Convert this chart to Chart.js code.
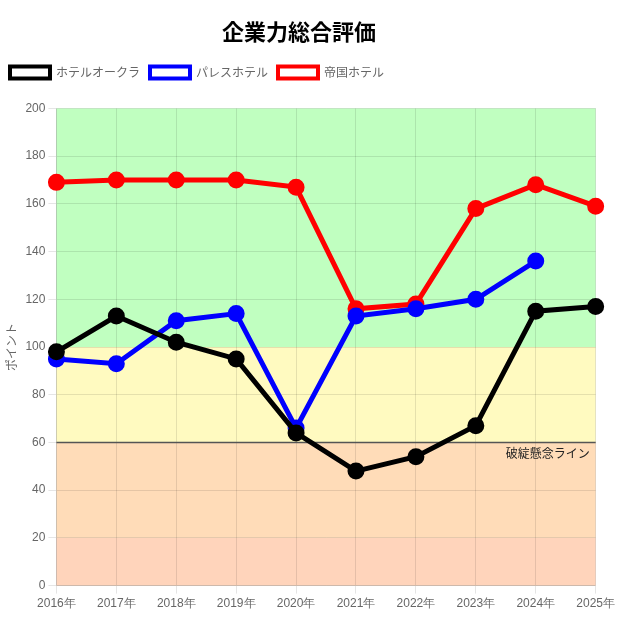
<!DOCTYPE html>
<html><head><meta charset="utf-8">
<script src="https://cdn.jsdelivr.net/npm/chart.js@4"></script>
<style>body{margin:0;background:#fff}#w{width:618px;height:618px}</style>
</head><body><div id="w"><canvas id="c"></canvas></div>
<script>
const labels=['2016年','2017年','2018年','2019年','2020年','2021年','2022年','2023年','2024年','2025年'];
const okura=[98,113,102,95,64,48,54,67,115,117];
const palace=[95,93,111,114,66,113,116,120,136,null];
const imperial=[169,170,170,170,167,116,118,158,168,159];
const bands=[[0,20,'#ffd4bb'],[20,60,'#ffdcb8'],[60,100,'#fffac0'],[100,200,'#c0ffc0']];
const warnLine=60, warnLabel='破綻懸念ライン';
const bg={id:'bg',beforeDraw(ch){const {ctx,chartArea:a,scales:{y}}=ch;ctx.save();
 bands.forEach(b=>{const t=y.getPixelForValue(b[1]),bt=y.getPixelForValue(b[0]);ctx.fillStyle=b[2];ctx.fillRect(a.left,t,a.right-a.left,bt-t);});ctx.restore();},
 beforeDatasetsDraw(ch){const {ctx,chartArea:a,scales:{y}}=ch;const p=Math.round(y.getPixelForValue(warnLine))+0.5;ctx.save();ctx.strokeStyle='#555';ctx.lineWidth=1.5;ctx.beginPath();ctx.moveTo(a.left,p);ctx.lineTo(a.right,p);ctx.stroke();
 ctx.fillStyle='#222';ctx.font='12px "Noto Sans CJK JP"';ctx.textAlign='right';ctx.textBaseline='top';ctx.fillText(warnLabel,a.right-6,p+5);ctx.restore();}};
const legendPad={id:'legendPad',beforeInit(ch){const f=ch.legend.fit;ch.legend.fit=function(){f.bind(ch.legend)();this.height+=20;};}};
const ds=(l,d,c)=>({label:l,data:d,borderColor:c,backgroundColor:'#fff',pointBackgroundColor:c,pointBorderColor:c,borderWidth:5,pointRadius:6,pointHoverRadius:6,tension:0});
new Chart(document.getElementById('c'),{type:'line',
data:{labels,datasets:[ds('ホテルオークラ',okura,'#000'),ds('パレスホテル',palace,'#0000ff'),ds('帝国ホテル',imperial,'#ff0000')]},
options:{responsive:true,maintainAspectRatio:false,animation:false,
layout:{padding:{left:0,right:20,bottom:4,top:8}},
plugins:{title:{display:true,text:'企業力総合評価',font:{size:22,weight:'bold',family:'"Noto Sans CJK JP"'},color:'#000',padding:{top:10,bottom:12}},
legend:{align:'start',labels:{boxWidth:40,boxHeight:12,color:'#666',font:{size:12,family:'"Noto Sans CJK JP"'},generateLabels(ch){return ch.data.datasets.map((d,i)=>({text:d.label,fillStyle:'#fff',strokeStyle:d.borderColor,lineWidth:4,datasetIndex:i,fontColor:'#666'}));}}}},
scales:{x:{offset:false,grid:{color:'rgba(0,0,0,0.1)'},ticks:{color:'#666',font:{size:12}}},
y:{min:0,max:200,ticks:{stepSize:20,color:'#666',font:{size:12}},grid:{color:'rgba(0,0,0,0.1)'},title:{display:true,text:'ポイント',color:'#666',font:{size:12,family:'"Noto Sans CJK JP"'}}}}},
plugins:[bg,legendPad]});
</script></body></html>
